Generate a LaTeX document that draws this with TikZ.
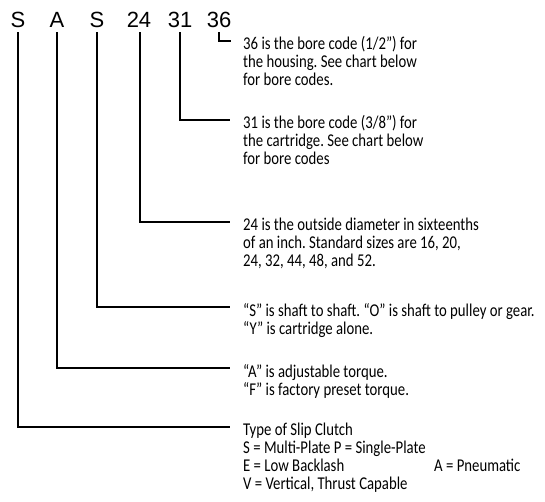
\documentclass[tikz,border=0pt]{standalone}
\usepackage{fontspec}
\usepackage{tikz}
\usetikzlibrary{calc}
\newfontfamily\codefont{Liberation Sans}
\newfontfamily\descfont[FakeStretch=0.82]{Carlito}
\frenchspacing

\begin{document}
\begin{tikzpicture}[x=1pt, y=-1pt,
		code/.style={font=\codefont\fontsize{22}{24}\selectfont, inner sep=0pt, anchor=base},
		desc/.style={font=\descfont\fontsize{18}{18}\selectfont, align=left, inner sep=0pt, anchor=north west},
		lead/.style={line width=1.5pt}]
		\useasboundingbox (0,0) rectangle (545,502);

		\node [code] (cS) at (18, 28) {S};
		\node [code] (cA) at (57, 28) {A};
		\node [code] (cO) at (97, 28) {S};
		\node [code] (cD) at (139, 28) {24};
		\node [code] (cC) at (180, 28) {31};
		\node [code] (cH) at (219, 28) {36};

	%	ends of the leader lines
		\coordinate (eH) at (231, 41);
		\coordinate (eC) at (230, 120);
		\coordinate (eD) at (230, 222);
		\coordinate (eO) at (230, 307);
		\coordinate (eA) at (230, 368);
		\coordinate (eS) at (230, 427);

		\node [desc] (dH) at ($(eH)+(12,-5)$) {36 is the bore code (1/2”) for\\the housing. See chart below\\for bore codes.};
		\node [desc] (dC) at ($(eC)+(13,-5)$) {31 is the bore code (3/8”) for\\the cartridge. See chart below\\for bore codes};
		\node [desc] (dD) at ($(eD)+(13,-4)$) {24 is the outside diameter in sixteenths\\of an inch. Standard sizes are 16, 20,\\24, 32, 44, 48, and 52.};
		\node [desc] (dO) at ($(eO)+(13,-4)$) {“S” is shaft to shaft. “O” is shaft to pulley or gear.\\“Y” is cartridge alone.};
		\node [desc] (dA) at ($(eA)+(13,-4)$) {“A” is adjustable torque.\\“F” is factory preset torque.};
		\node [desc] (dS) at ($(eS)+(13,-4)$) {Type of Slip Clutch\\S = Multi-Plate P = Single-Plate\\\makebox[191pt][l]{E = Low Backlash}A = Pneumatic\\V = Vertical, Thrust Capable};

		\draw [lead] ([yshift=-4pt]cH.south) |- (eH);
		\draw [lead] ([yshift=-4pt]cC.south) |- (eC);
		\draw [lead] ([yshift=-4pt, xshift=1pt]cD.south) |- (eD);
		\draw [lead] ([yshift=-4pt]cO.south) |- (eO);
		\draw [lead] ([yshift=-4pt]cA.south) |- (eA);
		\draw [lead] ([yshift=-4pt]cS.south) |- (eS);
	\end{tikzpicture}
\end{document}
